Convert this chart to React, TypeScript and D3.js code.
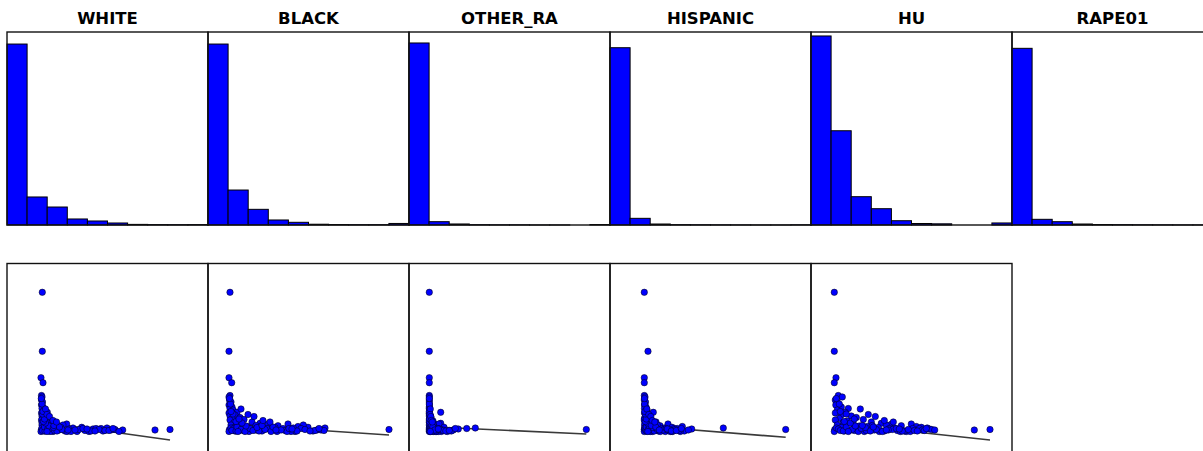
import React from "react";
import * as d3 from "d3";

// ---------- data ----------
const variables = ["WHITE", "BLACK", "OTHER_RA", "HISPANIC", "HU", "RAPE01"];

// histogram counts (10 equal-width bins over each variable's range)
const whiteHist = [2344, 363, 233, 78, 52, 26, 8, 5, 4, 5];
const blackHist = [2344, 453, 203, 65, 35, 10, 6, 4, 4, 20];
const otherRaHist = [3018, 55, 17, 5, 3, 3, 1, 1, 0, 8];
const hispanicHist = [3215, 121, 18, 6, 4, 3, 2, 1, 1, 4];
const huHist = [1763, 879, 264, 152, 40, 14, 11, 0, 0, 19];
const rape01Hist = [3204, 103, 60, 18, 9, 6, 4, 3, 2, 2];
const histYMax = [2500, 2500, 3200, 3500, 1800, 3500];

// scatter: RAPE01 (y) against each predictor (x)
const rape01 = [
  139.2, 80.2, 53.8, 48.8, 36, 34.5, 31.5, 29.5, 26.5, 24.5, 23, 21.5, 19.2, 18.5, 16.5, 15.5,
  14, 13, 12, 11.5, 10.5, 9.5, 9, 8.2, 7.5, 7.2, 6.5, 5.8, 7.5, 5.5, 5, 4.2,
  4, 3.5, 6.5, 2.5, 3, 3.5, 2, 1.5, 1.5, 2, 0.5, 1, 0, 1.5,
  0.5, 2.5, 0, 1, 0, 3, 0.5, 1.5, 0, 4, 5, 3, 2, 0, 1, 6, 0, 2,
  3.5, 2.5, 1, 0.5, 4.5, 2, 0, 3, 1, 5.5, 0.5, 2, 4, 0, 1.5, 3,
  0.5, 2, 1, 8.5, 10, 12.5, 17.5, 20, 27.5, 33, 6, 4.5, 1.5, 0, 2.5, 0.5,
  1, 3, 22.5, 17, 15, 11, 9.5,
];
const whiteX = [
  1.3, 1.3, 0, 2, 0.5, 1, 0.5, 1.5, 0.5, 2, 1, 3, 6.3, 0.5, 3, 1,
  5, 2, 7, 0.5, 4, 10, 1, 7.3, 3, 10.7, 1, 17.3, 25.7, 5, 14, 40.7,
  2, 32, 22, 52, 60, 66, 74, 81.7, 114, 129, 3, 8, 12, 18,
  24, 28, 36, 44, 48, 55, 62, 70, 78, 20, 9, 15, 0.5, 0, 5, 6, 26, 38,
  1, 2.5, 1.5, 4, 3.5, 6.5, 9, 11, 13.5, 8, 16, 21, 12.5, 30, 34, 42,
  50, 58, 64, 4.5, 2.5, 3.5, 1.5, 2, 1, 0.3, 13, 18.5, 27, 6, 46, 54,
  68, 72, 4.5, 6, 8.5, 12, 15.5,
];
const blackX = [
  1, 0, 0, 2.7, 1, 0, 0.5, 2, 0, 3, 1, 4, 8, 0, 6, 1,
  11, 3, 15, 1, 9, 23, 5, 31, 7, 39, 2, 49, 59, 12, 69, 79,
  5, 64.3, 74.3, 44, 54, 96, 35, 28, 88, 160, 6, 14, 20, 26,
  33, 40, 48, 56, 66, 72, 84, 92, 62, 46, 18, 38, 0.5, 0, 10, 27, 58, 29,
  2, 4, 3, 7, 8, 12, 16, 21, 24, 17, 30, 36, 28, 42, 52, 60,
  68, 76, 86, 13, 7, 10, 4, 2, 1.5, 0.5, 33, 44, 47, 9, 63, 81,
  95, 90, 12, 19, 25, 34, 41,
];
const otherRaX = [
  0, 0, 0, 0, 0, 0, 0, 0, 0.2, 0, 0, 0.2, 11.4, 0, 0.7, 0,
  1.7, 0.2, 1.7, 0, 3.7, 0.7, 0, 11.4, 2.7, 5.7, 0, 7.7, 9.7, 1.7, 4.7, 14.7,
  0.7, 2, 4, 29, 37.4, 46, 6, 3, 24, 157, 1, 2.5, 4, 6,
  8, 10, 12, 15, 18, 5, 22, 13, 9, 3, 1, 2, 0, 0, 0.5, 1, 7, 11,
  0, 0.3, 0.2, 0.5, 0.5, 1.2, 1.5, 2, 3.5, 1.3, 4.5, 5, 2.2, 6.5, 7, 8.5,
  3.2, 10.5, 14, 0.5, 0.2, 0.4, 0, 0, 0, 0, 2.5, 3.5, 5.5, 1, 9, 16.5,
  20, 26, 1, 0.8, 1.5, 2, 3,
];
const hispanicX = [
  0, 3.7, 0, 0, 0, 0.7, 0, 1.2, 0.2, 1.7, 0.2, 2.7, 9, 0.2, 1.7, 3.7,
  0.7, 0.2, 5.7, 0, 2.7, 11.7, 0.7, 5.7, 1.7, 9.7, 0.2, 15.7, 23.7, 3.7, 38, 27.7,
  0.7, 20, 13, 47.4, 30, 79, 18, 10, 33, 141.4, 2, 5, 8, 11,
  14, 17, 21, 24, 26, 33, 40, 44, 28, 7, 4, 12, 0, 0, 3, 6, 36, 25,
  0.5, 1, 1.5, 2.5, 2, 4, 6, 7.5, 9, 5, 10, 13, 8.5, 16, 19, 22,
  29, 31, 35, 3, 1, 2, 1, 0.5, 0.3, 0.2, 7, 11.5, 15, 3.5, 23, 27,
  32, 37, 2.5, 4.5, 6.5, 8, 10.5,
];
const huX = [
  0, 0, 1.7, 0, 4, 8, 1, 3, 1.5, 7, 14, 3, 11, 1, 7, 17,
  22, 5, 29, 1, 13, 37, 9, 47, 19, 57, 3, 67, 77, 25, 82, 87,
  7, 60, 52, 95, 78.4, 93, 97.4, 100.4, 140, 155.7, 10, 20, 30, 40,
  50, 35, 45, 63, 72, 85, 70, 88, 76, 44, 33, 55, 0.5, 0, 15, 38, 66, 58,
  2, 4, 6, 9, 12, 18, 24, 27, 32, 21, 36, 42, 31, 48, 54, 62,
  68, 74, 80, 16, 10, 20, 12, 6, 5, 2, 28, 39, 52, 14, 65, 83,
  90, 92, 26, 34, 41, 50, 59,
];
const scatterX = [whiteX, blackX, otherRaX, hispanicX, huX];
const scatterXDomains: [number, number][] = [
  [-34, 167],
  [-21, 180],
  [-20.3, 180.7],
  [-34.3, 166.7],
  [-23.3, 177.7],
];
const rape01Domain: [number, number] = [-25, 168];
const fitIntercept = [9.5, 7.2, 4.8, 5.5, 8.2];
const fitSlope = [-0.1395, -0.067, -0.0465, -0.08, -0.107];

const hists = [whiteHist, blackHist, otherRaHist, hispanicHist, huHist, rape01Hist];

// ---------- layout ----------
const W = 1203;
const H = 451;
const LEFT = 7;
const PW = 201;
const PH = 193;
const TOP1 = 32;
const TOP2 = 263.5;
const BLUE = "#0000ff";

export default function App() {
  return (
    <svg
      width={W}
      height={H}
      style={{ position: "absolute", left: 0, top: 0, display: "block", background: "#fff" }}
    >
      <rect x={0} y={0} width={W} height={H} fill="#fff" />
      {variables.map((name, p) => {
        const x0 = LEFT + PW * p;
        const hx = d3.scaleLinear().domain([0, 10]).range([x0, x0 + PW]);
        const hy = d3.scaleLinear().domain([0, histYMax[p]]).range([TOP1 + PH, TOP1]);
        return (
          <g key={name}>
            <text
              x={x0 + PW / 2}
              y={24}
              textAnchor="middle"
              fontFamily="DejaVu Sans, sans-serif"
              fontWeight="bold"
              fontSize={16.5}
              fill="#000"
            >
              {name}
            </text>
            {hists[p].map((c, i) => (
              <rect
                key={i}
                x={hx(i)}
                y={hy(c)}
                width={hx(i + 1) - hx(i)}
                height={hy(0) - hy(c)}
                fill={BLUE}
                stroke="#000"
                strokeWidth={1}
              />
            ))}
            <rect x={x0} y={TOP1} width={PW} height={PH} fill="none" stroke="#111" strokeWidth={1.4} />
          </g>
        );
      })}
      {scatterX.map((xs, p) => {
        const x0 = LEFT + PW * p;
        const sx = d3.scaleLinear().domain(scatterXDomains[p]).range([x0, x0 + PW]);
        const sy = d3.scaleLinear().domain(rape01Domain).range([TOP2 + PH, TOP2]);
        const xMin = d3.min(xs) as number;
        const xMax = d3.max(xs) as number;
        const fit = d3
          .line<number>()
          .x((v) => sx(v))
          .y((v) => sy(fitIntercept[p] + fitSlope[p] * v));
        return (
          <g key={"s" + p}>
            <path d={fit([xMin, xMax]) || ""} fill="none" stroke="#3a3a3a" strokeWidth={1.6} />
            {xs.map((xv, i) => (
              <circle
                key={i}
                cx={sx(xv)}
                cy={sy(rape01[i])}
                r={3.2}
                fill={BLUE}
                stroke="#000"
                strokeWidth={0.5}
              />
            ))}
            <rect x={x0} y={TOP2} width={PW} height={PH} fill="none" stroke="#111" strokeWidth={1.4} />
          </g>
        );
      })}
    </svg>
  );
}
